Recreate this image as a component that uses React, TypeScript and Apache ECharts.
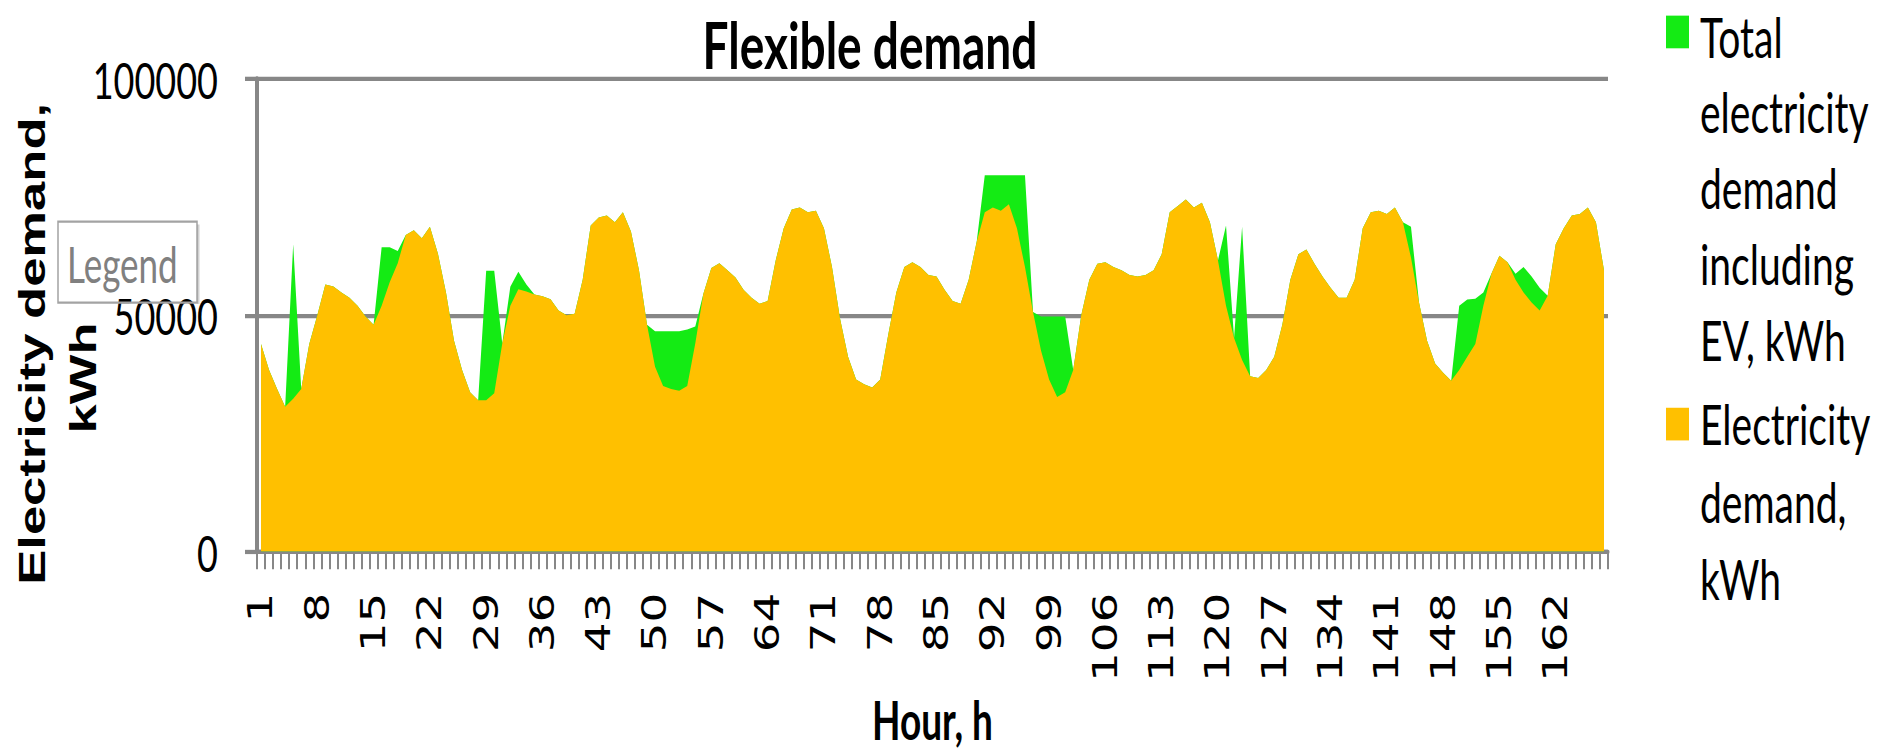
import React, { useEffect, useRef } from "react";
import * as echarts from "echarts";

// ---- data (kWh) ----
const hours: string[] = Array.from({ length: 168 }, (_, i) => String(i + 1));

const electricityDemand: number[] = [
  43900, 38400, 34400, 30600, 32300, 34400, 43900, 50000, 56500, 56100,
  54800, 53700, 52000, 49700, 48000, 52000, 57000, 61000, 67000, 68000,
  66300, 68700, 63000, 54800, 44600, 38400, 33700, 32000, 32000, 33500,
  44000, 52000, 55500, 55000, 54400, 54000, 53400, 51000, 50000, 50300,
  57500, 69000, 70700, 71100, 69700, 71800, 67700, 59500, 48000, 39100,
  35000, 34400, 34000, 35000, 44000, 54500, 60000, 61000, 59500, 58000,
  55400, 53700, 52400, 53000, 61600, 68400, 72400, 72800, 71800, 72100,
  68400, 60200, 49300, 41200, 36400, 35400, 34700, 36400, 45900, 54800,
  60200, 61200, 60200, 58500, 58200, 55400, 53000, 52400, 57500, 65600,
  71800, 72800, 72100, 73500, 68400, 60200, 50700, 42500, 36400, 32700,
  33700, 38400, 50000, 57500, 60900, 61200, 60200, 59500, 58500, 58200,
  58500, 59500, 62900, 71800, 73100, 74500, 72800, 73800, 69700, 61600,
  52000, 45200, 40500, 37100, 36700, 38400, 41200, 48000, 57500, 62900,
  63900, 60900, 58200, 55800, 53700, 53700, 57500, 68400, 71800, 72100,
  71400, 72800, 69700, 62200, 52700, 44600, 39800, 37800, 36100, 38400,
  41200, 43900, 52000, 58800, 62600, 61200, 57500, 54800, 52700, 51000,
  54100, 65000, 68400, 71100, 71400, 72800, 69700, 59500,
];

const totalDemandInclEV: number[] = [
  43900, 38400, 34400, 30600, 65000, 34400, 43900, 50000, 56500, 56100,
  54800, 53700, 52000, 49700, 48000, 64400, 64400, 63600, 67000, 68000,
  66300, 68700, 63000, 54800, 44600, 38400, 33700, 32000, 59400, 59400,
  44000, 56000, 59200, 56500, 54400, 54000, 53400, 51000, 50000, 50300,
  57500, 69000, 70700, 71100, 69700, 71800, 67700, 59500, 48000, 46600,
  46600, 46600, 46600, 47000, 47600, 54500, 60000, 61000, 59500, 58000,
  55400, 53700, 52400, 53000, 61600, 68400, 72400, 72800, 71800, 72100,
  68400, 60200, 49300, 41200, 36400, 35400, 34700, 36400, 45900, 54800,
  60200, 61200, 60200, 58500, 58200, 55400, 53000, 52400, 57500, 65600,
  79600, 79600, 79600, 79600, 79600, 79600, 50700, 49700, 49700, 49700,
  49700, 38400, 50000, 57500, 60900, 61200, 60200, 59500, 58500, 58200,
  58500, 59500, 62900, 71800, 73100, 74500, 72800, 73800, 69700, 61600,
  69000, 45200, 68700, 37100, 36700, 38400, 41200, 48000, 57500, 62900,
  63900, 60900, 58200, 55800, 53700, 53700, 57500, 68400, 71800, 72100,
  71400, 72800, 69700, 68700, 52700, 44600, 39800, 37800, 36100, 52000,
  53300, 53500, 54800, 58800, 62600, 61200, 58800, 60200, 58200, 55800,
  54100, 65000, 68400, 71100, 71400, 72800, 69700, 59500,
];

const yTicks: number[] = [0, 50000, 100000];

const TITLE = "Flexible demand";
const X_NAME = "Hour, h";
const Y_NAME_1 = "Electricity demand,";
const Y_NAME_2 = "kWh";
const SERIES_TOTAL = "Total electricity demand including EV, kWh";
const SERIES_BASE = "Electricity demand, kWh";
const LEGEND_TOTAL_LINES = ["Total", "electricity", "demand", "including", "EV, kWh"];
const LEGEND_BASE_LINES = ["Electricity", "demand,", "kWh"];

const GREEN = "#14EB14";
const ORANGE = "#FFC000";
const GRAY = "#878787";

// the reference picture is vertically stretched; draw at this height and stretch
const FULL_W = 1883;
const FULL_H = 753;
const BASE_H = 530;
const STRETCH = FULL_H / BASE_H;

function legendLines(lines: string[], firstMiddle: number, gap: number) {
  return lines.map((t, k) => ({
    type: "text",
    x: 1700,
    y: firstMiddle + k * gap,
    z: 10,
    style: {
      text: t,
      fontFamily: "Lato",
      fontSize: 39,
      lineHeight: 40,
      fill: "#000",
      align: "left",
      verticalAlign: "middle",
    },
  }));
}

export default function App() {
  const ref = useRef<HTMLDivElement>(null);

  useEffect(() => {
    document.body.style.margin = "0";
    const chart = echarts.init(ref.current as HTMLDivElement, null, { renderer: "svg" });
    chart.setOption({
      animation: false,
      backgroundColor: "#ffffff",
      title: {
        text: TITLE,
        left: 870,
        top: 8,
        textAlign: "center",
        padding: 0,
        textStyle: { fontFamily: "Lato", fontWeight: "bold", fontSize: 46, color: "#000" },
      },
      grid: { left: 257, right: 275, top: 55.6, bottom: 128.8, containLabel: false },
      xAxis: {
        type: "category",
        data: hours,
        boundaryGap: true,
        name: X_NAME,
        nameLocation: "middle",
        nameGap: 91,
        nameTextStyle: { fontFamily: "Lato", fontWeight: "bold", fontSize: 37, color: "#000" },
        axisLine: { show: true, lineStyle: { color: GRAY, width: 3 } },
        axisTick: { show: true, interval: 0, length: 12.5, lineStyle: { color: GRAY, width: 2 } },
        axisLabel: {
          interval: 6,
          rotate: 90,
          margin: 29,
          fontFamily: "DejaVu Sans",
          fontSize: 33,
          color: "#000",
        },
        splitLine: { show: false },
      },
      yAxis: {
        type: "value",
        min: yTicks[0],
        max: yTicks[yTicks.length - 1],
        interval: yTicks[1] - yTicks[0],
        axisLine: { show: true, lineStyle: { color: GRAY, width: 4 } },
        axisTick: { show: true, length: 12, lineStyle: { color: GRAY, width: 3 } },
        axisLabel: {
          margin: 39,
          fontFamily: "Lato",
          fontSize: 36,
          color: "#000",
          formatter: (v: number) => String(v),
        },
        splitLine: { show: true, lineStyle: { color: GRAY, width: 3 } },
      },
      series: [
        {
          name: SERIES_TOTAL,
          type: "line",
          data: totalDemandInclEV,
          showSymbol: false,
          symbol: "none",
          lineStyle: { width: 0, color: GREEN },
          itemStyle: { color: GREEN },
          areaStyle: { color: GREEN, opacity: 1 },
          z: 2,
        },
        {
          name: SERIES_BASE,
          type: "line",
          data: electricityDemand,
          showSymbol: false,
          symbol: "none",
          lineStyle: { width: 0, color: ORANGE },
          itemStyle: { color: ORANGE },
          areaStyle: { color: ORANGE, opacity: 1 },
          z: 3,
        },
      ],
      graphic: [
        // legend (right)
        { type: "rect", shape: { x: 1666, y: 11, width: 23, height: 23 }, style: { fill: GREEN }, z: 10 },
        ...legendLines(LEGEND_TOTAL_LINES, 25.5, 53.3),
        { type: "rect", shape: { x: 1666, y: 287, width: 23, height: 23 }, style: { fill: ORANGE }, z: 10 },
        ...legendLines(LEGEND_BASE_LINES, 298.5, 54.4),
        // y axis title
        {
          type: "text",
          x: 32,
          y: 242,
          rotation: Math.PI / 2,
          z: 10,
          style: {
            text: Y_NAME_1,
            fontFamily: "Liberation Sans",
            fontWeight: "bold",
            fontSize: 37,
            fill: "#000",
            align: "center",
            verticalAlign: "middle",
          },
        },
        {
          type: "text",
          x: 83,
          y: 266,
          rotation: Math.PI / 2,
          z: 10,
          style: {
            text: Y_NAME_2,
            fontFamily: "Liberation Sans",
            fontWeight: "bold",
            fontSize: 37,
            fill: "#000",
            align: "center",
            verticalAlign: "middle",
          },
        },
        // floating "Legend" box
        {
          type: "rect",
          shape: { x: 58, y: 156, width: 139, height: 57 },
          style: {
            fill: "rgba(255,255,255,0)",
            stroke: "#a3a3a3",
            lineWidth: 1.5,
          },
          z: 20,
        },
        {
          type: "line",
          shape: { x1: 198.5, y1: 158, x2: 198.5, y2: 214 },
          style: { stroke: "rgba(0,0,0,0.18)", lineWidth: 2 },
          z: 20,
        },
        {
          type: "text",
          x: 67,
          y: 185.5,
          z: 21,
          style: {
            text: "Legend",
            fontFamily: "Lato",
            fontSize: 35,
            lineHeight: 28,
            fill: "#808080",
            align: "left",
            verticalAlign: "middle",
          },
        },
      ],
    });
    return () => chart.dispose();
  }, []);

  return (
    <div style={{ width: FULL_W, height: FULL_H, overflow: "hidden", position: "relative" }}>
      <div
        ref={ref}
        style={{
          width: FULL_W,
          height: BASE_H,
          transform: `scaleY(${STRETCH})`,
          transformOrigin: "0 0",
        }}
      />
    </div>
  );
}
